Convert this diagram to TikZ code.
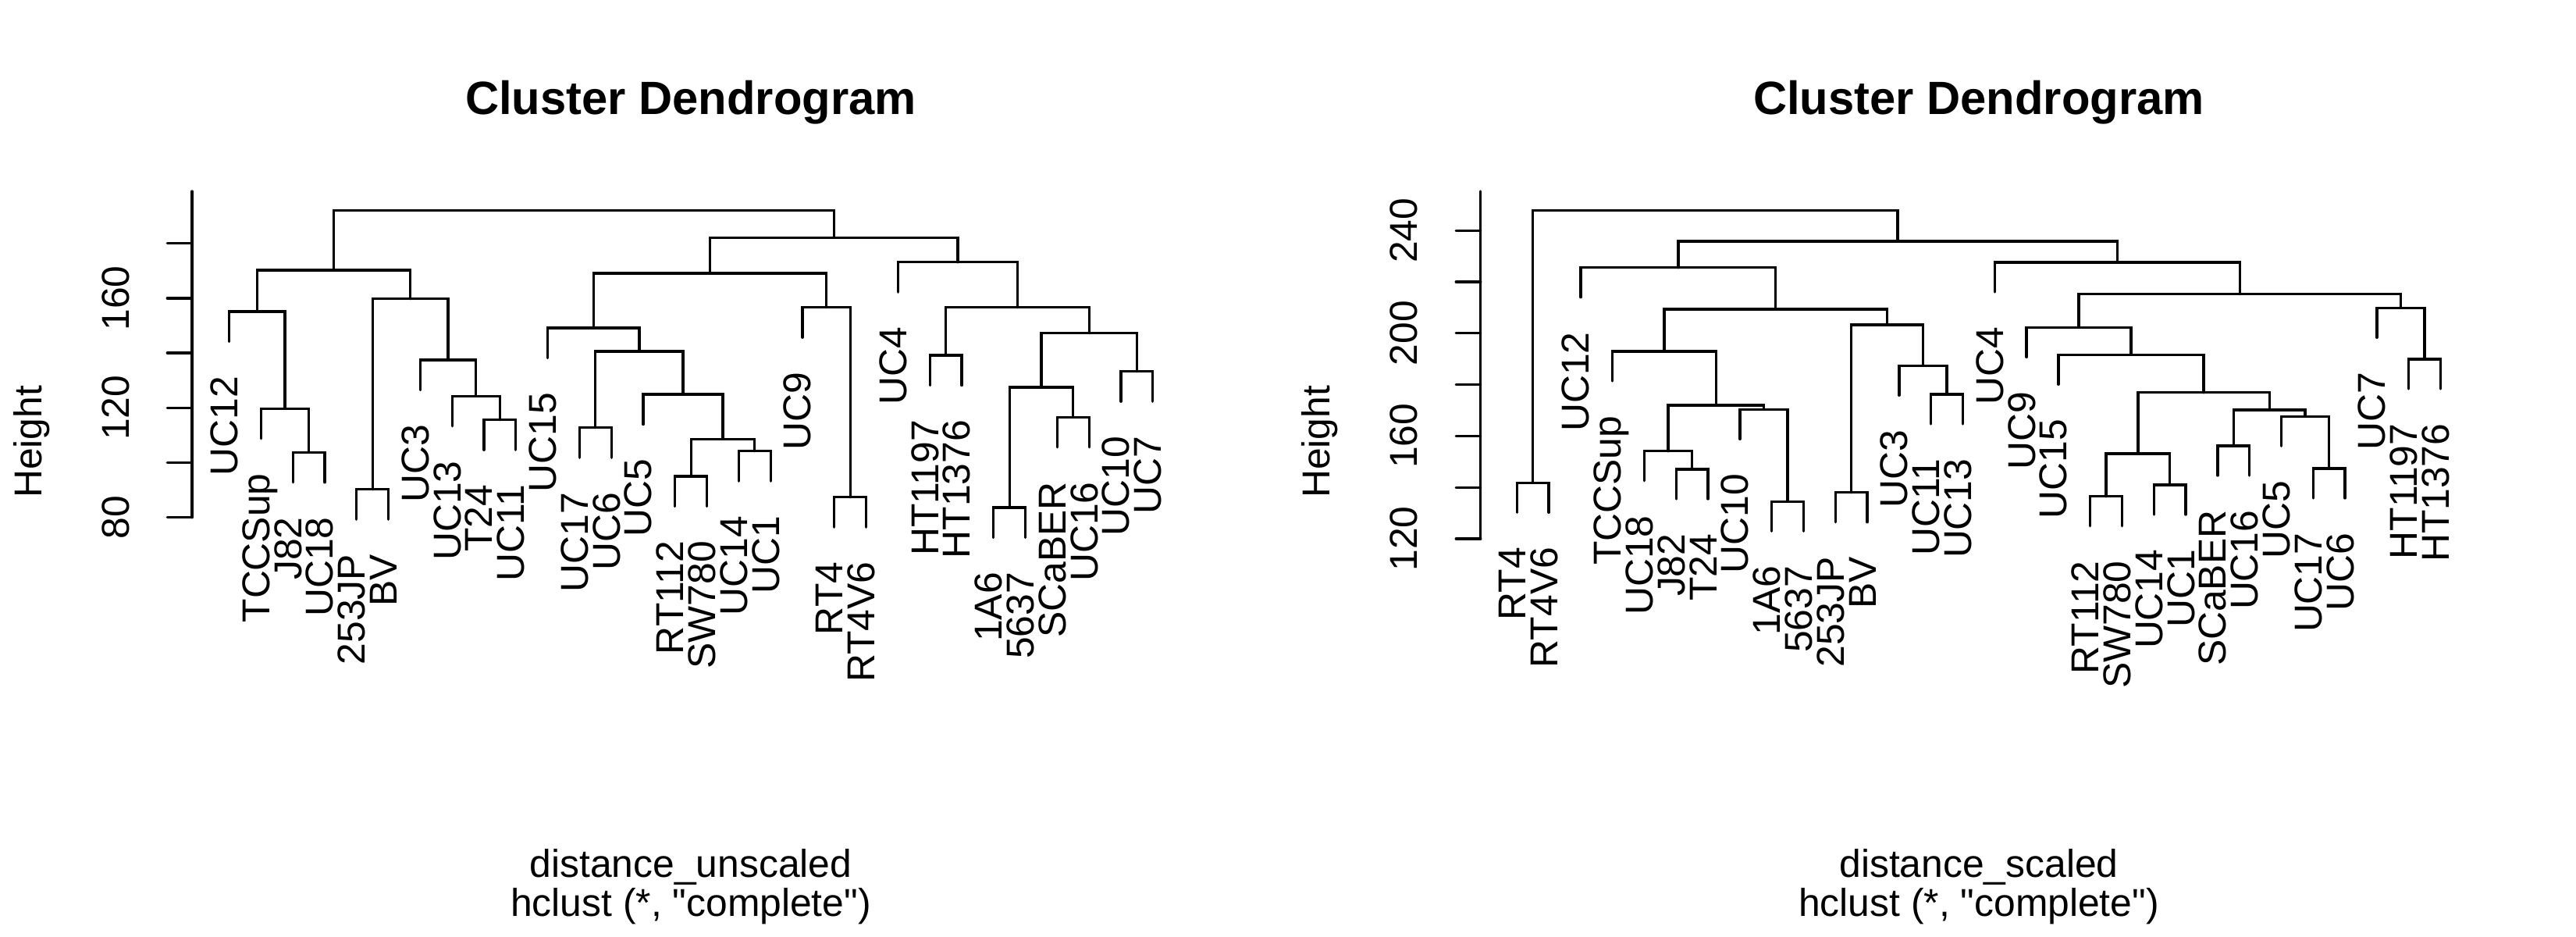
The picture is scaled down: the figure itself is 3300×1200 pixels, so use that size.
\documentclass[tikz,border=0pt]{standalone}
\usepackage{fontspec}
\setmainfont{Liberation Sans}[Ligatures=TeXOff]
\usetikzlibrary{calc,positioning}

\begin{document}
\begin{tikzpicture}[x=0.0084667cm, y=-0.0084667cm, line width=0.8pt, line cap=round,
  leaf/.style={rotate=90, anchor=mid east, inner sep=0pt, font=\fontsize{12}{14}\selectfont},
  ylbl/.style={rotate=90, anchor=base, inner sep=0pt, font=\fontsize{12}{14}\selectfont},
  txt/.style={anchor=base, inner sep=0pt, font=\fontsize{12}{14}\selectfont},
  ttl/.style={anchor=base, inner sep=0pt, font=\fontsize{14.4}{17}\selectfont\bfseries}]
\useasboundingbox (0,0) rectangle (3300,1200);
\tikzstyle{tk}=[line width=0.8pt]

% left panel
\node[ttl] (ta) at (885,146.7) {Cluster Dendrogram};
\node[txt] (sa) at (885,1123.3) {distance\_unscaled};
\node[txt] (ca) at (885,1173.3) {hclust (*, "complete")};
\node[ylbl] (ha) at (53.3,565.8) {Height};
\draw[tk] (245.9,245) -- (245.9,662.7);
\foreach \t in {662.7,592.5,522.3,452.1,381.9,311.7}{\draw[tk] (214.3,\t) -- (245.9,\t);}
\foreach \v/\t in {80/662.7,120/522.3,160/381.9}{\node[ylbl] (ya-\v) at (165,\t) {\v};}

\foreach \s/\i/\h in {UC12/1/399,TCCSup/2/523.3,J82/3/579.3,UC18/4/579.3,253JP/5/626.7,BV/6/626.7,
  UC3/7/461,UC13/8/507.3,T24/9/537.7,UC11/10/537.7,UC15/11/420,UC17/12/547.7,UC6/13/547.7,
  UC5/14/505,RT112/15/610,SW780/16/610,UC14/17/577.7,UC1/18/577.7,UC9/19/393.7,RT4/20/636.7,
  RT4V6/21/636.7,UC4/22/335.7,HT1197/23/455,HT1376/24/455,1A6/25/650,5637/26/650,
  SCaBER/27/534.3,UC16/28/534.3,UC10/29/475.7,UC7/30/475.7}{
  \coordinate (a-\s) at ({293.6+40.8*(\i-1)},{\h+38.5});
  \node[leaf] (la-\s) at ({293.6+40.8*(\i-1)},{\h+38.5+43}) {\s};
}
\foreach \p/\x/\y/\l/\r in {a1/395.6/579.3/a-J82/a-UC18,a2/365/523.3/a-TCCSup/a1,a3/329.3/399/a-UC12/a2,
  a4/477.2/626.7/a-253JP/a-BV,a5/640.4/537.7/a-T24/a-UC11,a6/609.8/507.3/a-UC13/a5,a7/574.1/461/a-UC3/a6,
  a8/525.7/382.7/a4/a7,a9/427.5/346/a3/a8,a10/762.8/547.7/a-UC17/a-UC6,a11/885.2/610/a-RT112/a-SW780,
  a12/966.8/577.7/a-UC14/a-UC1,a13/926/562.3/a11/a12,a14/875/505/a-UC5/a13,a15/818.9/450/a10/a14,
  a16/760.3/420/a-UC15/a15,a17/1089.2/636.7/a-RT4/a-RT4V6,a18/1058.6/393.7/a-UC9/a17,a19/909.4/350/a16/a18,
  a20/1211.6/455/a-HT1197/a-HT1376,a21/1293.2/650/a-1A6/a-5637,a22/1374.8/534.3/a-SCaBER/a-UC16,
  a23/1334/496/a21/a22,a24/1456.4/475.7/a-UC10/a-UC7,a25/1395.2/426.7/a23/a24,a26/1303.4/393.7/a20/a25,
  a27/1226.9/335.7/a-UC4/a26,a28/1068.2/304.3/a19/a27,a29/747.8/269.3/a9/a28}{
  \coordinate (\p) at (\x,\y);
  \draw (\l) |- (\p) -| (\r);
}

% right panel
\node[ttl] (tb) at (2535,146.7) {Cluster Dendrogram};
\node[txt] (sb) at (2535,1123.3) {distance\_scaled};
\node[txt] (cb) at (2535,1173.3) {hclust (*, "complete")};
\node[ylbl] (hb) at (1703.3,565.8) {Height};
\draw[tk] (1896.8,245) -- (1896.8,690);
\foreach \t in {690,624.2,558.4,492.6,426.8,361,295.2}{\draw[tk] (1865.2,\t) -- (1896.8,\t);}
\foreach \v/\t in {120/690,160/558.4,200/426.8,240/295.2}{\node[ylbl] (yb-\v) at (1815,\t) {\v};}

\foreach \s/\i/\h in {RT4/1/618.3,RT4V6/2/618.3,UC12/3/342.7,TCCSup/4/450,UC18/5/577.7,J82/6/601,
  T24/7/601,UC10/8/524.3,1A6/9/642.3,5637/10/642.3,253JP/11/630.7,BV/12/630.7,UC3/13/468.3,
  UC11/14/505,UC13/15/505,UC4/16/336,UC9/17/419.3,UC15/18/454.3,RT112/19/635.7,SW780/20/635.7,
  UC14/21/621,UC1/22/621,SCaBER/23/571,UC16/24/571,UC5/25/533.3,UC17/26/600,UC6/27/600,
  UC7/28/394.3,HT1197/29/460,HT1376/30/460}{
  \coordinate (b-\s) at ({1943.3+40.8*(\i-1)},{\h+38});
  \node[leaf] (lb-\s) at ({1943.3+40.8*(\i-1)},{\h+38+43}) {\s};
}
\foreach \p/\x/\y/\l/\r in {b1/1963.7/618.3/b-RT4/b-RT4V6,b2/2167.7/601/b-J82/b-T24,b3/2137.1/577.7/b-UC18/b2,
  b4/2290.1/642.3/b-1A6/b-5637,b5/2259.5/524.3/b-UC10/b4,b6/2198.3/519/b3/b5,b7/2132/450/b-TCCSup/b6,
  b8/2371.7/630.7/b-253JP/b-BV,b9/2494.1/505/b-UC11/b-UC13,b10/2463.5/468.3/b-UC3/b9,
  b11/2417.6/416/b8/b10,b12/2274.8/396/b7/b11,b13/2149.9/342.7/b-UC12/b12,
  b14/2698.1/635.7/b-RT112/b-SW780,b15/2779.7/621/b-UC14/b-UC1,b16/2738.9/581/b14/b15,
  b17/2861.3/571/b-SCaBER/b-UC16,b18/2983.7/600/b-UC17/b-UC6,b19/2953.1/533.3/b-UC5/b18,
  b20/2907.2/525/b17/b19,b21/2823.1/502.7/b16/b20,b22/2730/454.3/b-UC15/b21,b23/2663.1/419.3/b-UC9/b22,
  b24/3106.1/460/b-HT1197/b-HT1376,b25/3075.5/394.3/b-UC7/b24,b26/2869.3/376.7/b23/b25,
  b27/2712.3/336/b-UC4/b26,b28/2431.1/309/b13/b27,b29/2197.4/269.3/b1/b28}{
  \coordinate (\p) at (\x,\y);
  \draw (\l) |- (\p) -| (\r);
}
\end{tikzpicture}
\end{document}
